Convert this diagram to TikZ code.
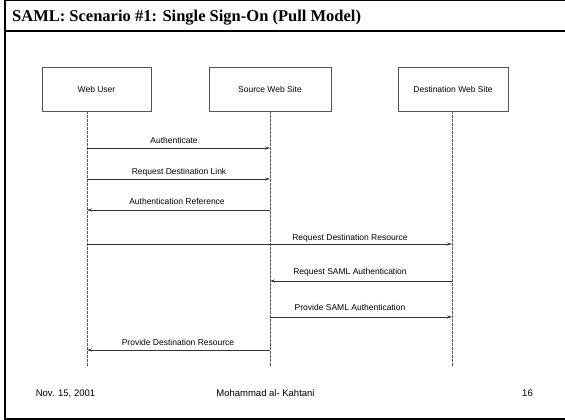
\documentclass[tikz,border=0pt]{standalone}
\usepackage{fontspec}
\setmainfont{Liberation Serif}
\newfontfamily\arialfont{Liberation Sans}
\usetikzlibrary{arrows.meta}

\definecolor{inkgray}{HTML}{333333}
\definecolor{boxgray}{HTML}{555555}

\tikzset{
  actor/.style={draw=boxgray, line width=0.8pt, minimum width=109pt, minimum height=44pt,
    inner sep=0pt, font=\arialfont\fontsize{8.5}{10}\selectfont},
  lifeline/.style={draw=boxgray, line width=0.7pt, dash pattern=on 2.5pt off 1.5pt},
  msg/.style={draw=inkgray, line width=0.8pt, -{Stealth[length=5pt,width=3pt]}},
  msglabel/.style={anchor=base, inner sep=0pt, font=\arialfont\fontsize{8.5}{10}\selectfont},
  footer/.style={anchor=base, inner sep=0pt, font=\arialfont\fontsize{9.5}{11}\selectfont},
  frameline/.style={draw=black, line width=2pt}
}

\begin{document}
\begin{tikzpicture}[x=1pt, y=-1pt]
  \useasboundingbox (0,0) rectangle (565,420);

  % slide frame and title rule
  \draw[black, line width=0.8pt] (5,0.4) -- (565,0.4);
  \draw[frameline] (5,0) -- (5,419);
  \draw[frameline] (4,31) -- (565,31);
  \draw[frameline] (4,419) -- (565,419);

  % title
  \node[anchor=base west, inner sep=0pt, font=\bfseries\fontsize{16.5}{18}\selectfont]
    (title) at (12,21.5) {SAML: Scenario \#1: Single Sign-On (Pull Model)};

  % participants
  \node[actor, minimum width=109pt] (wu)  at (96.5,89)  {Web User};
  \node[actor, minimum width=122pt] (sws) at (270,89)   {Source Web Site};
  \node[actor, minimum width=110pt] (dws) at (453,89)   {Destination Web Site};

  % lifeline tops and bottoms
  \coordinate (wuT) at (87,111);
  \coordinate (swT) at (270,111);
  \coordinate (dwT) at (452,111);
  \coordinate (lend) at (0,366);
  \draw[lifeline] (wuT) -- (wuT |- lend);
  \draw[lifeline] (swT) -- (swT |- lend);
  \draw[lifeline] (dwT) -- (dwT |- lend);

  % message rows
  \coordinate (m1) at (0,148);
  \coordinate (m2) at (0,179);
  \coordinate (m3) at (0,210);
  \coordinate (m4) at (0,244);
  \coordinate (m5) at (0,281);
  \coordinate (m6) at (0,317);
  \coordinate (m7) at (0,350);

  \draw[msg] (wuT |- m1) -- (swT |- m1);
  \draw[msg] (wuT |- m2) -- (swT |- m2);
  \draw[msg] (swT |- m3) -- (wuT |- m3);
  \draw[msg] (wuT |- m4) -- (dwT |- m4);
  \draw[msg] (dwT |- m5) -- (swT |- m5);
  \draw[msg] (swT |- m6) -- (dwT |- m6);
  \draw[msg] (swT |- m7) -- (wuT |- m7);

  % message labels
  \node[msglabel] (l1) at (174,143) {Authenticate};
  \node[msglabel] (l2) at (179,174) {Request Destination Link};
  \node[msglabel] (l3) at (177,204.5) {Authentication Reference};
  \node[msglabel] (l4) at (350,240) {Request Destination Resource};
  \node[msglabel] (l5) at (350,274.5) {Request SAML Authentication};
  \node[msglabel] (l6) at (350,310.5) {Provide SAML Authentication};
  \node[msglabel] (l7) at (178,345) {Provide Destination Resource};

  % footer
  \node[footer] (date)   at (65.5,396) {Nov. 15, 2001};
  \node[footer] (author) at (265.5,396) {Mohammad al- Kahtani};
  \node[footer] (page)   at (527.5,396) {16};
\end{tikzpicture}
\end{document}
